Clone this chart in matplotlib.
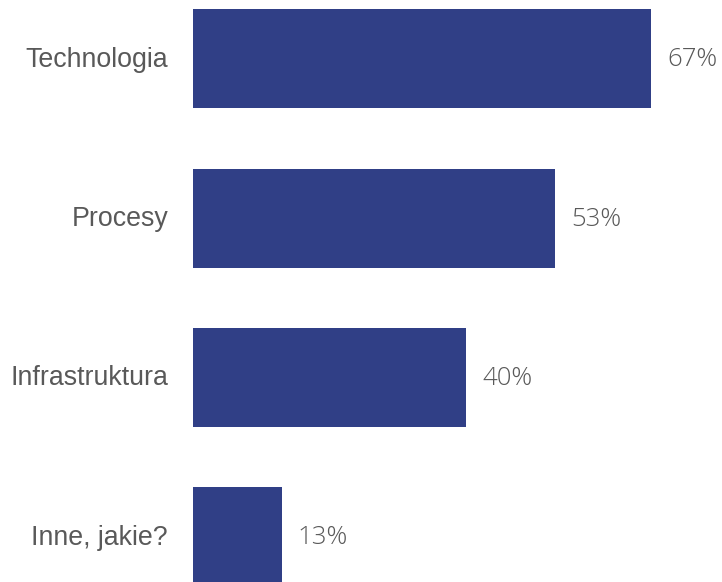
import matplotlib
matplotlib.use("Agg")
import matplotlib.pyplot as plt

categories = ["Technologia", "Procesy", "Infrastruktura", "Inne, jakie?"]
values = [67, 53, 40, 13]
value_labels = ["67%", "53%", "40%", "13%"]

BAR_COLOR = "#303F86"
TEXT_COLOR = "#595959"

fig = plt.figure(figsize=(7.22, 5.82), dpi=100)
ax = fig.add_axes([193 / 722, 0, 529 / 722, 1])

pos = list(range(len(categories)))
ax.barh(pos, values, height=0.62, color=BAR_COLOR)

ax.set_xlim(0, 529 / 6.836)
ax.set_ylim(3.284, -0.369)
ax.axis("off")

for y, v, lab, cat in zip(pos, values, value_labels, categories):
    ax.annotate(lab, xy=(v, y), xytext=(16, -1), textcoords="offset pixels",
                ha="left", va="center", fontsize=18.5, color=TEXT_COLOR,
                family="Open Sans", fontweight="light")
    ax.annotate(cat, xy=(0, y), xytext=(-25, -1), textcoords="offset pixels",
                ha="right", va="center", fontsize=19.3, color=TEXT_COLOR,
                family="Liberation Sans")

fig.savefig("out.png", dpi=100)
